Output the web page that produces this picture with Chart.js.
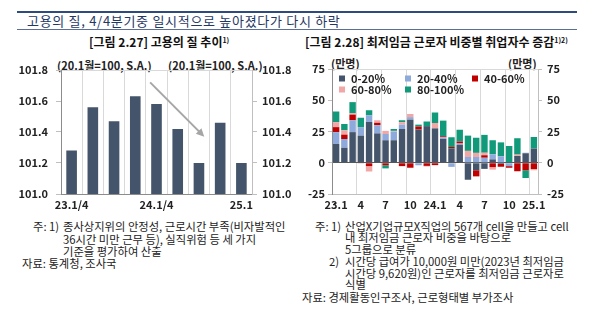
<!DOCTYPE html>
<html><head><meta charset="utf-8">
<script src="https://cdn.jsdelivr.net/npm/chart.js@4"></script>
<style>
body{margin:0;width:598px;height:323px;background:#fff;position:relative;overflow:hidden;font-family:'Noto Sans CJK KR','Noto Sans',sans-serif;color:#222}
.abs{position:absolute;white-space:nowrap}
.rule{position:absolute;background:#2f4b7c}
.title{font-size:13px;line-height:16px;color:#1f3864;letter-spacing:0.7px}
.sub{font-size:12px;line-height:16px;font-weight:bold;color:#111}
.sub sup{font-size:7px;vertical-align:top;position:relative;top:-2px}
.unit{font-size:11px;line-height:14px;font-weight:bold;color:#222}
.fn{font-size:11.3px;line-height:14px;color:#222}
.cw{position:absolute}
</style></head><body>
<div class="rule" style="left:17px;top:11px;width:560px;height:2px"></div>
<div class="abs title" style="left:27px;top:13px">고용의 질, 4/4분기중 일시적으로 높아졌다가 다시 하락</div>
<div class="rule" style="left:17px;top:29px;width:560px;height:1px;background:#5b6f94"></div>

<div class="abs sub" style="left:89px;top:34px">[그림 2.27] 고용의 질 추이<sup>1)</sup></div>
<div class="abs sub" style="left:305px;top:34px">[그림 2.28] 최저임금 근로자 비중별 취업자수 증감<sup>1)2)</sup></div>

<div class="abs unit" style="left:57px;top:58px">(20.1월=100, S.A.)</div>
<div class="abs unit" style="left:168px;top:58px">(20.1월=100, S.A.)</div>
<div class="abs unit" style="left:331px;top:56px">(만명)</div>
<div class="abs unit" style="left:508px;top:56px">(만명)</div>

<div class="cw" style="left:0;top:55px;width:300px;height:160px"><canvas id="c1"></canvas></div>
<div class="cw" style="left:290px;top:55px;width:308px;height:160px"><canvas id="c2"></canvas></div>

<div class="abs fn" style="left:33px;top:219px">주: 1)</div>
<div class="abs fn" style="left:63px;top:219px">종사상지위의 안정성, 근로시간 부족(비자발적인</div>
<div class="abs fn" style="left:63px;top:232px">36시간 미만 근무 등), 실직위험 등 세 가지</div>
<div class="abs fn" style="left:63px;top:244px">기준을 평가하여 산출</div>
<div class="abs fn" style="left:22px;top:256px">자료: 통계청, 조사국</div>

<div class="abs fn" style="left:315px;top:219px">주: 1)</div>
<div class="abs fn" style="left:345px;top:219px">산업X기업규모X직업의 567개 cell을 만들고 cell</div>
<div class="abs fn" style="left:345px;top:230px">내 최저임금 근로자 비중을 바탕으로</div>
<div class="abs fn" style="left:345px;top:242px">5그룹으로 분류</div>
<div class="abs fn" style="left:329px;top:254px">2)</div>
<div class="abs fn" style="left:345px;top:254px">시간당 급여가 10,000원 미만(2023년 최저임금</div>
<div class="abs fn" style="left:345px;top:266px">시간당 9,620원)인 근로자를 최저임금 근로자로</div>
<div class="abs fn" style="left:345px;top:277px">식별</div>
<div class="abs fn" style="left:302px;top:290px">자료: 경제활동인구조사, 근로형태별 부가조사</div>

<script>
// ---------- Data: left chart (고용의 질 추이) ----------
const qCategories = ['23.1/4','23.2/4','23.3/4','23.4/4','24.1/4','24.2/4','24.3/4','24.4/4','25.1/4'];
const qTickLabels = ['23.1/4','','','','24.1/4','','','','25.1'];
const qualityIndex = [101.28,101.56,101.47,101.63,101.58,101.42,101.20,101.46,101.20];
const qAxisMin = 101.0, qAxisMax = 101.8, qAxisStep = 0.2;
const trendArrow = [[3.7,101.72],[6.25,101.37]]; // [category index, value]

// ---------- Data: right chart (최저임금 근로자 비중별 취업자수 증감) ----------
const months = ['23.1','23.2','23.3','23.4','23.5','23.6','23.7','23.8','23.9','23.10','23.11','23.12',
  '24.1','24.2','24.3','24.4','24.5','24.6','24.7','24.8','24.9','24.10','24.11','24.12','25.1'];
const monthTickLabels = ['23.1','','','4','','','7','','','10','','','24.1','','','4','','','7','','','10','','','25.1'];
const seriesNames = ['0-20%','20-40%','40-60%','60-80%','80-100%'];
const share0_20   = [15,12,24.5,21.7,32.6,23.5,18,18,27,34.5,26.6,29.3,27.5,19,11.5,14.4,-13.6,-6,-4.9,2.7,-1,0.4,5.4,7.6,11.4];
const share20_40  = [9.5,7,9.5,6.8,5.4,6.5,5,7,3.5,2,-2,0,0,1.4,-3.3,1,4.6,4.6,4,4.1,5.2,-2.7,0,0.4,0];
const share40_60  = [4,3.5,4.5,-0.5,-2.7,2,-2,0,-2.7,-4,2.4,-2.5,-1.9,0.8,1.1,1.6,0,-4.9,2,-3.5,-2.2,-1.3,-6.8,-6,-5];
const share60_80  = [4,3.5,1,0,-4.3,2,2.5,0.5,2,2.5,0,-0.5,4.3,0,0,0,4.9,3.3,2,-2,0,0,1.1,0,-1];
const share80_100 = [8.5,5,9,7.5,4,0,-2.5,1.5,1.5,0,1.5,3.7,8.4,12.5,7.8,9.4,12.2,12.1,14.3,11.2,11.1,13,13.1,-6.2,9.2];
const wAxisMin = -25, wAxisMax = 75, wAxisStep = 25;

const seriesColors = ['#44546a','#8ea9db','#c00000','#f2a7a7','#119a7a'];

Chart.defaults.font.family = "'Noto Sans CJK KR','Noto Sans',sans-serif";
Chart.defaults.color = '#222';
Chart.defaults.animation = false;

const tickFont = {size: 11, weight: 'bold'};
function fixW(w){ return function(s){ s.width = w; }; }
function fixH(h){ return function(s){ s.height = h; }; }

// arrow plugin
const arrowPlugin = {
  id: 'trendArrow',
  afterDatasetsDraw(chart){
    const xs = chart.scales.x, ys = chart.scales.y, ctx = chart.ctx;
    const x1 = xs.getPixelForValue(trendArrow[0][0]), y1 = ys.getPixelForValue(trendArrow[0][1]);
    const x2 = xs.getPixelForValue(trendArrow[1][0]), y2 = ys.getPixelForValue(trendArrow[1][1]);
    const ang = Math.atan2(y2-y1, x2-x1);
    ctx.save();
    ctx.strokeStyle = '#a6a6a6'; ctx.fillStyle = '#a6a6a6'; ctx.lineWidth = 2;
    ctx.beginPath(); ctx.moveTo(x1,y1);
    ctx.lineTo(x2 - 5*Math.cos(ang), y2 - 5*Math.sin(ang)); ctx.stroke();
    ctx.beginPath(); ctx.moveTo(x2,y2);
    ctx.lineTo(x2 - 8*Math.cos(ang) + 4*Math.sin(ang), y2 - 8*Math.sin(ang) - 4*Math.cos(ang));
    ctx.lineTo(x2 - 8*Math.cos(ang) - 4*Math.sin(ang), y2 - 8*Math.sin(ang) + 4*Math.cos(ang));
    ctx.closePath(); ctx.fill();
    ctx.restore();
  }
};

new Chart(document.getElementById('c1'), {
  type: 'bar',
  data: { labels: qCategories, datasets: [{ data: qualityIndex, backgroundColor: '#44546a', barPercentage: 0.5, categoryPercentage: 1 }] },
  options: {
    responsive: true, maintainAspectRatio: false,
    layout: { padding: { top: 15, bottom: 0, left: 0, right: 0 } },
    plugins: { legend: { display: false }, tooltip: { enabled: false } },
    scales: {
      x: {
        grid: { offset: true, drawTicks: false, color: '#d9d9d9', lineWidth: 1 },
        border: { display: true, color: '#8c8c8c' },
        ticks: { autoSkip: false, maxRotation: 0, padding: 4, font: tickFont, color: '#222',
                 callback: (v, i) => qTickLabels[i] },
        afterFit: fixH(21)
      },
      y: {
        position: 'left', min: qAxisMin, max: qAxisMax,
        grid: { color: c => (c.tick && Math.abs(c.tick.value - qAxisMax) < 1e-6) ? '#d9d9d9' : 'rgba(0,0,0,0)',
                tickLength: 5, tickColor: '#bfbfbf' },
        border: { display: true, color: '#8c8c8c' },
        ticks: { stepSize: qAxisStep, padding: 8, font: tickFont, color: '#222', callback: v => v.toFixed(1) },
        afterFit: fixW(61)
      },
      y2: {
        position: 'right', min: qAxisMin, max: qAxisMax,
        grid: { drawOnChartArea: false, tickLength: 5, tickColor: '#bfbfbf' },
        border: { display: true, color: '#bfbfbf' },
        ticks: { stepSize: qAxisStep, padding: 5, font: tickFont, color: '#222', callback: v => v.toFixed(1) },
        afterFit: fixW(48)
      }
    }
  },
  plugins: [arrowPlugin]
});

// legend plugin (inside plot area)
const innerLegend = {
  id: 'innerLegend',
  afterDraw(chart){
    const ctx = chart.ctx, a = chart.chartArea;
    const colX = [10, 76, 143], rowY = [9.5, 20.5];
    ctx.save();
    ctx.font = "bold 11px 'Noto Sans CJK KR','Noto Sans',sans-serif";
    ctx.textBaseline = 'middle'; ctx.textAlign = 'left';
    chart.data.datasets.forEach((ds, i) => {
      const x = a.left + colX[i % 3], y = a.top + rowY[Math.floor(i / 3)];
      ctx.fillStyle = ds.backgroundColor;
      ctx.fillRect(x - 3, y - 3, 6, 6);
      ctx.fillStyle = '#222';
      ctx.fillText(ds.label, x + 9, y + 0.5);
    });
    ctx.restore();
  }
};

const shareSeries = [share0_20, share20_40, share40_60, share60_80, share80_100];
new Chart(document.getElementById('c2'), {
  type: 'bar',
  data: {
    labels: months,
    datasets: shareSeries.map((d, i) => ({
      label: seriesNames[i], data: d, backgroundColor: seriesColors[i],
      barPercentage: 0.78, categoryPercentage: 1, stack: 's'
    }))
  },
  options: {
    responsive: true, maintainAspectRatio: false,
    layout: { padding: { top: 14, bottom: 0, left: 0, right: 0 } },
    plugins: { legend: { display: false }, tooltip: { enabled: false } },
    scales: {
      x: {
        stacked: true,
        grid: { offset: true, drawTicks: false, lineWidth: 1,
                color: c => (c.index === undefined) ? '#bfbfbf' : ((c.index % 3 === 0 && c.index > 0) ? '#d9d9d9' : 'rgba(0,0,0,0)') },
        border: { display: true, color: '#bfbfbf' },
        ticks: { autoSkip: false, maxRotation: 0, padding: 4, font: tickFont, color: '#222',
                 callback: (v, i) => monthTickLabels[i] },
        afterFit: fixH(21)
      },
      y: {
        stacked: true, position: 'left', min: wAxisMin, max: wAxisMax,
        grid: { color: c => !c.tick ? 'rgba(0,0,0,0)' : (c.tick.value === 0 ? '#595959' : (c.tick.value === wAxisMax ? '#d9d9d9' : 'rgba(0,0,0,0)')),
                tickLength: 4, tickColor: '#bfbfbf' },
        border: { display: true, color: '#8c8c8c' },
        ticks: { stepSize: wAxisStep, padding: 3, font: tickFont, color: '#222' },
        afterFit: fixW(42)
      },
      y2: {
        position: 'right', min: wAxisMin, max: wAxisMax,
        grid: { drawOnChartArea: false, tickLength: 4, tickColor: '#bfbfbf' },
        border: { display: true, color: '#bfbfbf' },
        ticks: { stepSize: wAxisStep, padding: 5, font: tickFont, color: '#222' },
        afterFit: fixW(60)
      }
    }
  },
  plugins: [innerLegend]
});
</script>
</body></html>
